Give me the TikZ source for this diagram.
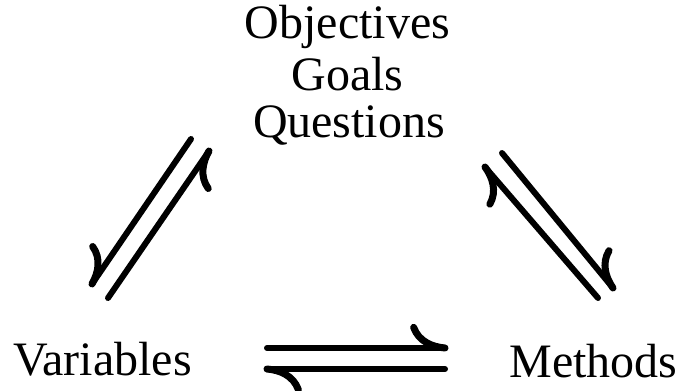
\documentclass[tikz,border=0pt]{standalone}
\usepackage{fontspec}
\setmainfont{Liberation Serif}
\usetikzlibrary{calc}
\tikzset{
  lbl/.style={anchor=base, inner sep=0pt, font=\fontsize{48}{50}\selectfont},
  shaft/.style={line width=6pt, line cap=round},
  barbline/.style={line width=7pt, line cap=round}
}
\newcommand\hbarb[3]{%
  \pgfmathsetmacro\hbA{#3*5}%
  \pgfmathsetmacro\hbB{#3*14}%
  \pgfmathsetmacro\hbC{#3*33.3}%
  \draw[shaft] (#1) -- (#2);
  \draw[barbline] (#2) .. controls ($(#2)!13pt!\hbA:(#1)$) and ($(#2)!27pt!\hbB:(#1)$) .. ($(#2)!37.5pt!\hbC:(#1)$);%
}
\begin{document}
\begin{tikzpicture}[x=1pt,y=-1pt]
  \fill[white] (0,0) rectangle (683,391);
  \useasboundingbox (0,0) rectangle (683,391);
  % labels
  \node[lbl] (obj) at (347.5,38) {Objectives};
  \node[lbl] (goa) at (347.5,90) {Goals};
  \node[lbl] (que) at (349,137) {Questions};
  \node[lbl] (var) at (102.5,375) {Variables};
  \node[lbl] (met) at (593.5,377) {Methods};
  % harpoon end points
  \coordinate (l1s) at (191,139);
  \coordinate (l1t) at (92,284);
  \coordinate (l2s) at (108,298);
  \coordinate (l2t) at (209,151);
  \coordinate (r1s) at (598,298);
  \coordinate (r1t) at (485,167);
  \coordinate (r2s) at (502,153);
  \coordinate (r2t) at (613,288);
  \coordinate (b1s) at (267,348);
  \coordinate (b1t) at (445,348);
  \coordinate (b2s) at (445,369);
  \coordinate (b2t) at (267,369);
  % harpoons (+1: barb on right of travel, -1: on left)
  \hbarb{l1s}{l1t}{1}
  \hbarb{l2s}{l2t}{1}
  \hbarb{r1s}{r1t}{-1}
  \hbarb{r2s}{r2t}{-1}
  \hbarb{b1s}{b1t}{-1}
  \hbarb{b2s}{b2t}{-1}
\end{tikzpicture}
\end{document}
